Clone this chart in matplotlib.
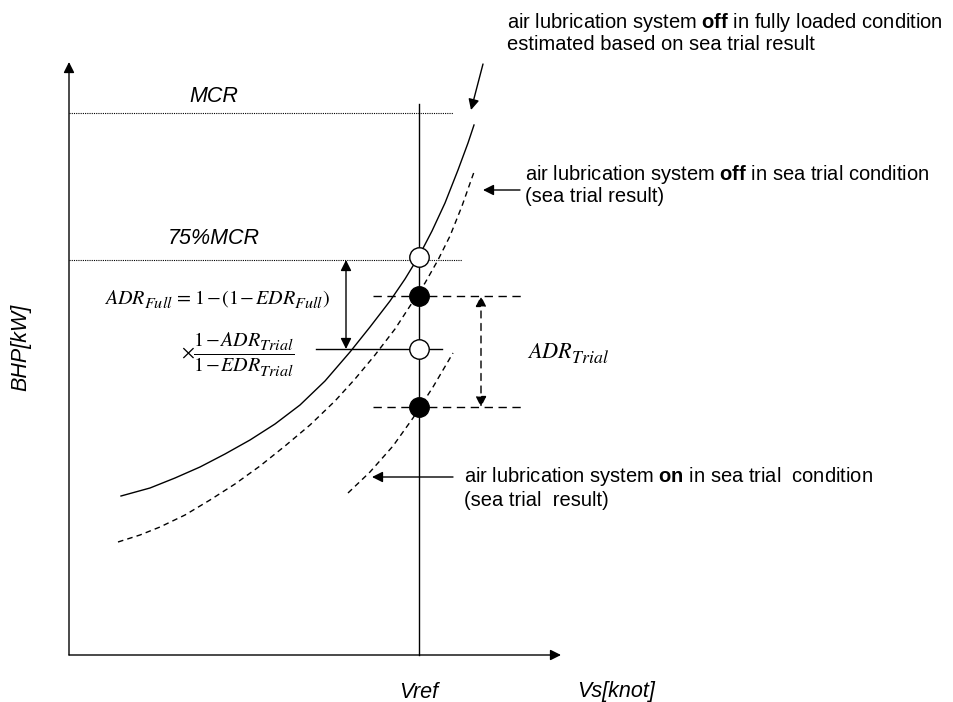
import matplotlib
matplotlib.use("Agg")
import matplotlib.pyplot as plt
import matplotlib._mathtext as _mt

# larger, lower sub-scripts, closer to the equation-editor look of the original
_mt.SHRINK_FACTOR = 0.8
_mt.STIXFontConstants.sub1 = 0.55

plt.rcParams['font.family'] = ['Liberation Sans', 'DejaVu Sans']
plt.rcParams['mathtext.fontset'] = 'custom'
plt.rcParams['mathtext.rm'] = 'Liberation Sans'
plt.rcParams['mathtext.it'] = 'Liberation Sans:italic'
plt.rcParams['mathtext.bf'] = 'Liberation Sans:bold'

# ---- schematic data (diagram units: speed to the right, power upwards) ----
# fully loaded, air lubrication off (estimated)
speed_full_off = [121, 150, 175, 200, 225, 250, 275, 300, 325, 350, 370, 390, 405,
                  419, 432, 445, 458, 468, 474]
power_full_off = [496, 488, 478, 467, 454, 440, 424, 405, 381, 352, 327, 301, 279,
                  256, 231, 203, 170, 143, 125]
# sea trial, air lubrication off
speed_trial_off = [118, 140, 160, 185, 210, 235, 260, 285, 310, 335, 355, 375, 395,
                   410, 425, 438, 450, 462, 474]
power_trial_off = [542, 535, 527, 515, 500, 484, 466, 446, 425, 401, 379, 355, 329,
                   306, 283, 260, 236, 206, 172]
# sea trial, air lubrication on
speed_trial_on = [348, 370, 393, 413, 433, 453]
power_trial_on = [493, 472, 446, 418, 387, 353]

v_ref = 419
mcr_level = 113
mcr75_level = 260
# operating points at Vref
point_levels = [257, 296, 349, 407]
point_filled = [False, True, False, True]

axis_origin = (69, 655)
axis_x_end = 561
axis_y_end = 62

fig = plt.figure(figsize=(9.54, 7.02), dpi=100)
ax = fig.add_axes([0, 0, 1, 1])
ax.set_xlim(0, 954)
ax.set_ylim(702, 0)
ax.axis('off')

LW = 1.0
arrow_kw = dict(arrowstyle='-|>', color='black', lw=LW, mutation_scale=16,
                shrinkA=0, shrinkB=0)

# axes with arrows
ax.annotate('', xy=(axis_x_end, axis_origin[1]), xytext=axis_origin, arrowprops=arrow_kw)
ax.annotate('', xy=(axis_origin[0], axis_y_end), xytext=axis_origin, arrowprops=arrow_kw)

# MCR dotted lines
ax.plot([axis_origin[0], 453], [mcr_level, mcr_level], color='black', lw=0.8,
        linestyle=(0, (1, 1)))
ax.plot([axis_origin[0], 462], [mcr75_level, mcr75_level], color='black', lw=0.8,
        linestyle=(0, (1, 1)))

# Vref vertical line
ax.plot([v_ref, v_ref], [104, axis_origin[1]], color='black', lw=LW)

# curves
ax.plot(speed_full_off, power_full_off, color='black', lw=LW)
ax.plot(speed_trial_off, power_trial_off, color='black', lw=LW, linestyle=(0, (4, 3)))
ax.plot(speed_trial_on, power_trial_on, color='black', lw=LW, linestyle=(0, (4, 3)))

# dashed horizontal references for ADR_Trial
for lvl in (point_levels[1], point_levels[3]):
    ax.plot([373, 523], [lvl, lvl], color='black', lw=LW, linestyle=(0, (6, 4)))

# solid horizontal line at the corrected point
ax.plot([316, 442], [point_levels[2], point_levels[2]], color='black', lw=LW)

# points
for lvl, filled in zip(point_levels, point_filled):
    ax.plot([v_ref], [lvl], marker='o', markersize=14,
            markerfacecolor='black' if filled else 'white',
            markeredgecolor='black', markeredgewidth=LW, zorder=5)

# double arrows
ax.annotate('', xy=(346, mcr75_level), xytext=(346, point_levels[2]),
            arrowprops=dict(arrowstyle='<|-|>', color='black', lw=LW,
                            mutation_scale=16, shrinkA=0, shrinkB=0))
ax.annotate('', xy=(481, point_levels[1]), xytext=(481, point_levels[3]),
            arrowprops=dict(arrowstyle='<|-|>', color='black', lw=LW,
                            mutation_scale=16, shrinkA=0, shrinkB=0,
                            linestyle=(0, (5, 4))))

# pointer arrows
ax.annotate('', xy=(471, 110), xytext=(483, 64), arrowprops=arrow_kw)
ax.annotate('', xy=(483, 190), xytext=(520, 190), arrowprops=arrow_kw)
ax.annotate('', xy=(372, 477), xytext=(453, 477), arrowprops=arrow_kw)

# annotation texts
TS = 14.5
ax.text(507, 22, r'air lubrication system $\mathbf{off}$ in fully loaded condition',
        fontsize=TS, va='center', ha='left')
ax.text(507, 45, 'estimated based on sea trial result', fontsize=TS, va='center', ha='left')
ax.text(525, 174, r'air lubrication system $\mathbf{off}$ in sea trial condition',
        fontsize=TS, va='center', ha='left')
ax.text(525, 197, '(sea trial result)', fontsize=TS, va='center', ha='left')
ax.text(464, 477, r'air lubrication system $\mathbf{on}$ in sea trial  condition',
        fontsize=TS, va='center', ha='left')
ax.text(464, 500, '(sea trial  result)', fontsize=TS, va='center', ha='left')

# labels
LS = 15.5
ax.text(214, 97, 'MCR', fontsize=LS, style='italic', ha='center', va='center')
ax.text(214, 239, '75%MCR', fontsize=LS, style='italic', ha='center', va='center')
ax.text(21, 347, 'BHP[kW]', fontsize=LS, style='italic', ha='center', va='center',
        rotation=90)
ax.text(v_ref, 692, 'Vref', fontsize=LS, style='italic', ha='center', va='center')
ax.text(616, 692, 'Vs[knot]', fontsize=LS, style='italic', ha='center', va='center')

# formulas
FS = 14.5
ax.text(104, 300,
        r'$ADR_{Full}\hspace{0.12}{=}\hspace{0.12}1\hspace{0.1}{-}\hspace{0.1}'
        r'(1\hspace{0.1}{-}\hspace{0.1}EDR_{Full})$',
        fontsize=FS, ha='left', va='center', math_fontfamily='stix')
ax.text(181, 355,
        r'$\times\dfrac{1\hspace{0.1}{-}\hspace{0.1}ADR_{Trial}}'
        r'{1\hspace{0.1}{-}\hspace{0.1}EDR_{Trial}}$',
        fontsize=FS, ha='left', va='center', math_fontfamily='stix')
ax.text(527, 354, r'$ADR_{Trial}$', fontsize=16, ha='left', va='center',
        math_fontfamily='stix')

fig.savefig('out.png', dpi=100)
